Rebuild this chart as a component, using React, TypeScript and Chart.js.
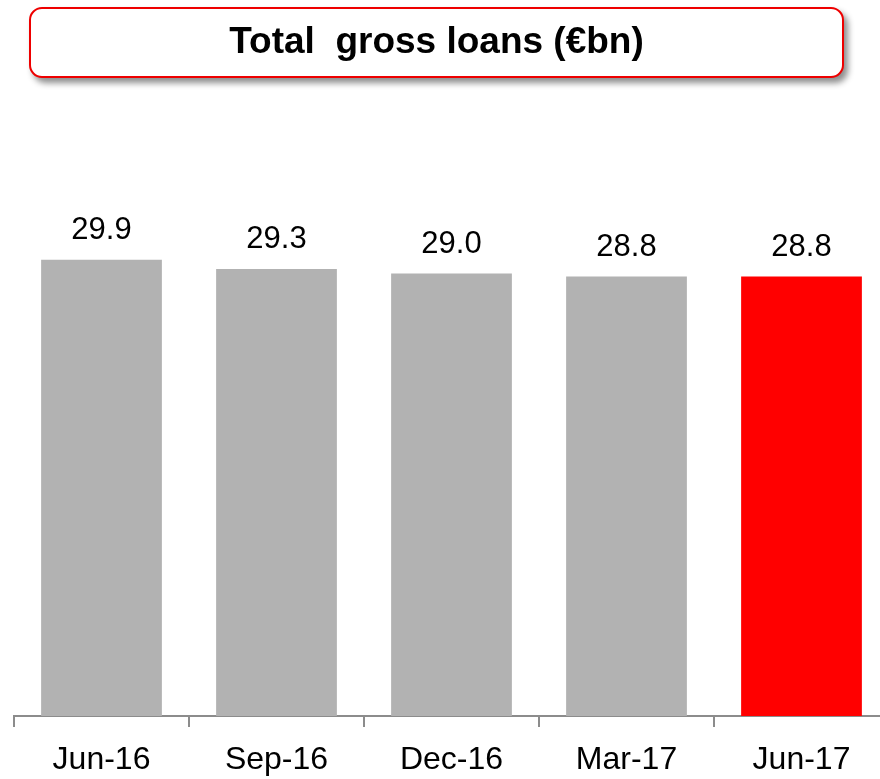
import React, { useEffect, useRef } from "react";
import { Chart, registerables } from "chart.js";

Chart.register(...registerables);

const chartTitle = "Total  gross loans (€bn)";
const categories = ["Jun-16", "Sep-16", "Dec-16", "Mar-17", "Jun-17"];
const values = [29.9, 29.3, 29.0, 28.8, 28.8];
const valueLabels = ["29.9", "29.3", "29.0", "28.8", "28.8"];
const barColors = ["#b2b2b2", "#b2b2b2", "#b2b2b2", "#b2b2b2", "#ff0000"];

const FONT = "'Liberation Sans', Arial, Helvetica, sans-serif";

const valueLabelPlugin = {
  id: "valueLabels",
  afterDatasetsDraw(chart: any) {
    const ctx = chart.ctx;
    const meta = chart.getDatasetMeta(0);
    ctx.save();
    ctx.font = `31px ${FONT}`;
    ctx.fillStyle = "#000000";
    ctx.textAlign = "center";
    ctx.textBaseline = "alphabetic";
    meta.data.forEach((bar: any, i: number) => {
      ctx.fillText(valueLabels[i], bar.x, bar.y - 21);
    });
    ctx.restore();
  },
};

export default function App() {
  const canvasRef = useRef<HTMLCanvasElement | null>(null);

  useEffect(() => {
    if (!canvasRef.current) return;
    const chart = new Chart(canvasRef.current, {
      type: "bar",
      data: {
        labels: categories,
        datasets: [
          {
            data: values,
            backgroundColor: barColors,
            borderWidth: 0,
            categoryPercentage: 1,
            barPercentage: 0.69,
          },
        ],
      },
      options: {
        responsive: false,
        animation: false,
        devicePixelRatio: 1,
        layout: { padding: { top: 182, left: 14, right: 1, bottom: 0 } },
        plugins: {
          legend: { display: false },
          title: { display: false },
          tooltip: { enabled: false },
        },
        scales: {
          x: {
            z: 1,
            grid: {
              offset: true,
              drawOnChartArea: false,
              drawTicks: true,
              tickLength: 11,
              color: "#8c8c8c",
              lineWidth: 2,
            },
            border: { display: true, color: "#8c8c8c", width: 2 },
            ticks: {
              color: "#000000",
              font: { family: FONT, size: 32 },
              padding: 14,
              maxRotation: 0,
              autoSkip: false,
            },
            afterFit: (s: any) => {
              s.height = 63;
            },
          },
          y: {
            display: false,
            min: 0,
            max: 35,
          },
        },
      },
      plugins: [valueLabelPlugin],
    });
    return () => chart.destroy();
  }, []);

  return (
    <div
      style={{
        position: "absolute",
        left: 0,
        top: 0,
        width: 880,
        height: 779,
        overflow: "hidden",
        background: "#ffffff",
      }}
    >
      <canvas
        ref={canvasRef}
        width={890}
        height={779}
        style={{ position: "absolute", left: 0, top: 0, width: 890, height: 779 }}
      />
      <div
        style={{
          position: "absolute",
          left: 29,
          top: 7,
          width: 815,
          height: 71,
          boxSizing: "border-box",
          border: "2px solid #ee0000",
          borderRadius: 13,
          background: "#ffffff",
          boxShadow: "4px 5px 6px rgba(0,0,0,0.45)",
          display: "flex",
          alignItems: "center",
          justifyContent: "center",
          paddingBottom: 3,
          fontFamily: FONT,
          fontWeight: "bold",
          fontSize: 37,
          color: "#000000",
          whiteSpace: "pre",
        }}
      >
        {chartTitle}
      </div>
    </div>
  );
}
